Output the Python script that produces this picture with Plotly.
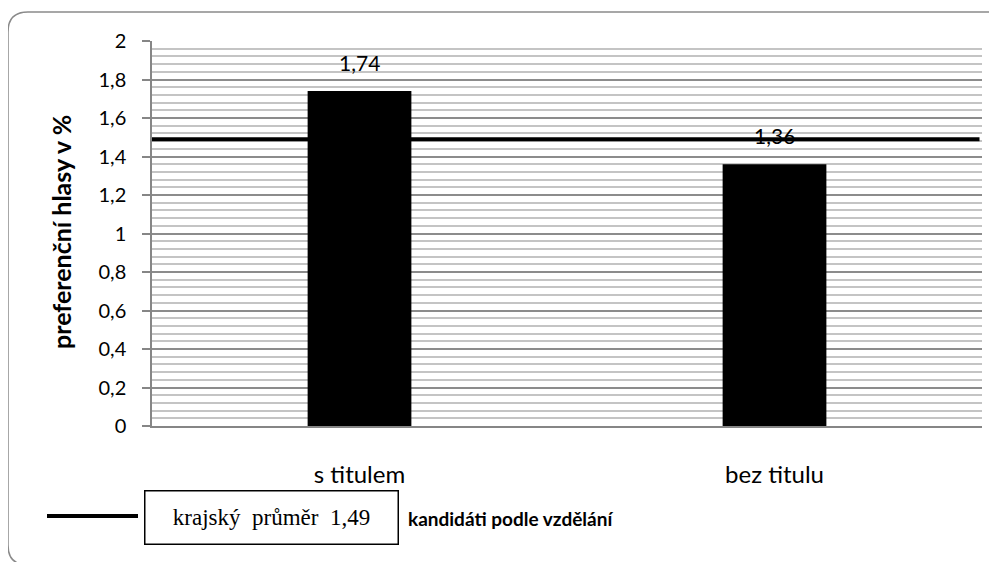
import plotly.graph_objects as go

# data
categories = ["s titulem", "bez titulu"]
values = [1.74, 1.36]
value_labels = ["1,74", "1,36"]
regional_avg = 1.49
avg_label = "krajský&nbsp;&nbsp;průměr&nbsp;&nbsp;1,49"
y_ticks = [0, 0.2, 0.4, 0.6, 0.8, 1, 1.2, 1.4, 1.6, 1.8, 2]

# page is 997x562, the html body adds an 8px margin
OFF = 8
W, H = 997 - OFF, 562 - OFF
PL, PR, PT, PB = 152, 982, 41, 426   # plot area in page pixels
L, R, T, B = PL - OFF, 997 - PR, PT - OFF, 562 - PB
PW, PH = PR - PL, PB - PT


def px_x(x):
    return (x - PL) / PW


def px_y(y):
    return (PB - y) / PH


SANS = "Lato, 'Open Sans', sans-serif"

fig = go.Figure()

fig.add_trace(go.Bar(
    x=categories,
    y=values,
    width=0.25,
    marker=dict(color="black", line=dict(width=0)),
    hoverinfo="x+y",
))

# data labels above bars
for cat, val, lab in zip(categories, values, value_labels):
    fig.add_annotation(
        x=cat, y=val, text=lab, showarrow=False,
        yanchor="bottom", yshift=14,
        font=dict(family=SANS, size=21, color="black"),
    )

# regional average line
fig.add_shape(type="line", xref="paper", yref="y",
              x0=0, x1=0.997, y0=regional_avg, y1=regional_avg,
              line=dict(color="black", width=4))

# legend: line sample + boxed text
fig.add_shape(type="line", xref="paper", yref="paper",
              x0=px_x(47), x1=px_x(138), y0=px_y(516), y1=px_y(516),
              line=dict(color="black", width=4))
fig.add_annotation(
    xref="paper", yref="paper", x=px_x(271.5), y=px_y(517),
    text=avg_label, showarrow=False, xanchor="center", yanchor="middle",
    width=250, height=50, bordercolor="black", borderwidth=1.5,
    bgcolor="white",
    font=dict(family="'Liberation Serif', 'Times New Roman', serif", size=23, color="black"),
)

# axis titles
fig.add_annotation(
    xref="paper", yref="paper", x=px_x(406), y=px_y(518),
    text="<b>kandidáti podle vzdělání</b>", showarrow=False,
    xanchor="left", yanchor="middle",
    font=dict(family=SANS, size=19, color="black"),
)
fig.add_annotation(
    xref="paper", yref="paper", x=px_x(61), y=px_y(232),
    text="<b>preferenční hlasy v %</b>", showarrow=False, textangle=-90,
    xanchor="center", yanchor="middle",
    font=dict(family=SANS, size=25, color="black"),
)

# rounded outer frame (partly cropped, as in the original)
x0, x1 = px_x(8), px_x(1008)
y0, y1 = px_y(565), px_y(12)
rx, ry = 20 / PW, 20 / PH
frame = (f"M {x0+rx},{y1} L {x1-rx},{y1} Q {x1},{y1} {x1},{y1-ry} "
         f"L {x1},{y0+ry} Q {x1},{y0} {x1-rx},{y0} L {x0+rx},{y0} "
         f"Q {x0},{y0} {x0},{y0+ry} L {x0},{y1-ry} Q {x0},{y1} {x0+rx},{y1} Z")
fig.add_shape(type="path", xref="paper", yref="paper", path=frame,
              line=dict(color="#8a8a8a", width=1.5), layer="below")

fig.update_layout(
    width=W, height=H,
    margin=dict(l=L, r=R, t=T, b=B),
    paper_bgcolor="white",
    plot_bgcolor="white",
    separators=", ",
    showlegend=False,
    bargap=0.75,
    font=dict(family=SANS, color="black"),
)

fig.update_xaxes(
    showgrid=False,
    showline=True, linecolor="#868686", linewidth=1.5,
    ticks="", ticklabelstandoff=26,
    tickfont=dict(family=SANS, size=24, color="black"),
)

fig.update_yaxes(
    range=[0, 2],
    tickvals=y_ticks,
    showline=True, linecolor="#868686", linewidth=1.5,
    ticks="outside", ticklen=8, tickcolor="#868686", tickwidth=1.5,
    ticklabelstandoff=12,
    showgrid=True, gridcolor="#8c8c8c", gridwidth=1.5,
    minor=dict(dtick=0.04, showgrid=True, gridcolor="#c4c4c4", gridwidth=1.5, ticks=""),
    zeroline=False,
    tickfont=dict(family=SANS, size=20, color="black"),
)

fig.write_html("out.html")
